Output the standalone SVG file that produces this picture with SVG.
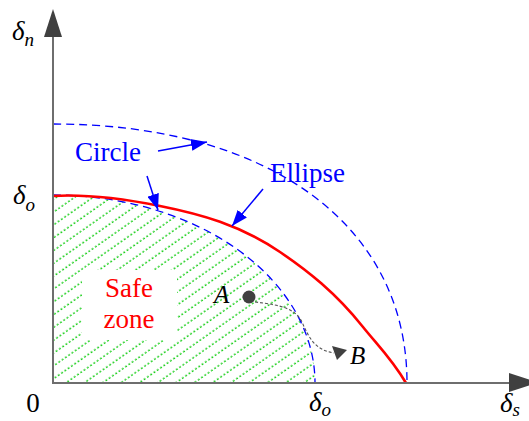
<svg xmlns="http://www.w3.org/2000/svg" width="529" height="421" viewBox="0 0 529 421">
<style>
text{font-family:"Liberation Serif","Times New Roman",serif}
.lbl{font-size:27px}
.math{font-style:italic;font-size:27px;fill:#000}
.sub{font-size:19px}
.blue{fill:#0000ff}
.red{fill:#ff0000}
.dash{fill:none;stroke:#0000ff;stroke-width:1.3;stroke-dasharray:8 5}
.ptr{fill:none;stroke:#0000ff;stroke-width:1.5}
.axis{stroke:#6e6e6e;stroke-width:2;fill:none}
</style>
<defs>
<pattern id="hatch" patternUnits="userSpaceOnUse" width="8" height="10.5" patternTransform="rotate(-35)">
<line x1="0" y1="5" x2="8" y2="5" stroke="#22d022" stroke-width="1.3" stroke-dasharray="2 2"/>
</pattern>
<clipPath id="zoneClip"><path d="M53,383 L53,195 A262,188 0 0 1 315,383 Z"/></clipPath>
<marker id="bArrow" viewBox="0 0 16 12" refX="16" refY="6" markerWidth="16" markerHeight="12" markerUnits="userSpaceOnUse" orient="auto">
<path d="M0,0 L16,6 L0,12 Z" fill="#0000ff"/>
</marker>
</defs>
<rect width="529" height="421" fill="#fff"/>
<g id="safe-zone">
<rect x="53" y="190" width="270" height="195" fill="url(#hatch)" clip-path="url(#zoneClip)"/>
<rect x="82" y="270" width="95" height="70" fill="#fff"/>
<text class="lbl red" x="129" y="297" text-anchor="middle">Safe</text>
<text class="lbl red" x="129" y="328" text-anchor="middle">zone</text>
</g>
<g id="outer-curve"><path class="dash" d="M53,124 C269,124 407,225 407,383"/></g>
<g id="inner-curve"><path class="dash" d="M53,195 A262,188 0 0 1 315,383"/></g>
<g id="red-curve"><path d="M53,196 C88.7,193.9 124.3,198.9 160,206 C200,214 240,224.8 280,252 C307.7,270.8 335.3,292.4 363,327 C377.3,344.9 391.7,358.6 406,383" fill="none" stroke="#ff0000" stroke-width="2.6"/></g>
<g id="axes">
<line class="axis" x1="53" y1="384" x2="53" y2="36"/>
<line class="axis" x1="52" y1="383" x2="510" y2="383"/>
<polygon points="53,9 44,37 62,37" fill="#404040"/>
<polygon points="509,373 509,392 538,382.5" fill="#404040"/>
</g>
<g id="labels-axes">
<text class="math" x="12" y="40">δ<tspan class="sub" dy="6">n</tspan></text>
<text class="math" x="13" y="204">δ<tspan class="sub" dy="7">o</tspan></text>
<text class="math" x="309" y="411">δ<tspan class="sub" dy="5">o</tspan></text>
<text class="math" x="500" y="412">δ<tspan class="sub" dy="4">s</tspan></text>
<text class="lbl" x="33" y="412" text-anchor="middle">0</text>
</g>
<g id="label-circle"><text class="lbl blue" x="75" y="161">Circle</text></g>
<g id="label-ellipse"><text class="lbl blue" x="270" y="182">Ellipse</text></g>
<g id="point-A">
<circle cx="249" cy="297" r="6.5" fill="#404040"/>
<text class="math" x="214" y="303" style="font-size:25px">A</text>
</g>
<g id="point-B"><text class="math" x="350" y="364" style="font-size:25px">B</text></g>
<g id="connectors">
<path class="ptr" d="M158,151 L207,142" marker-end="url(#bArrow)"/>
<path class="ptr" d="M147,176 L158,210" marker-end="url(#bArrow)"/>
<path class="ptr" d="M263,189 L232,226" marker-end="url(#bArrow)"/>
<path d="M255,302 C280,305 295,308 302,322 C309,338 315,350 334,353" fill="none" stroke="#555" stroke-width="1.1" stroke-dasharray="3 2"/>
<polygon points="332,346 347,350 337,360" fill="#404040"/>
</g>
</svg>
